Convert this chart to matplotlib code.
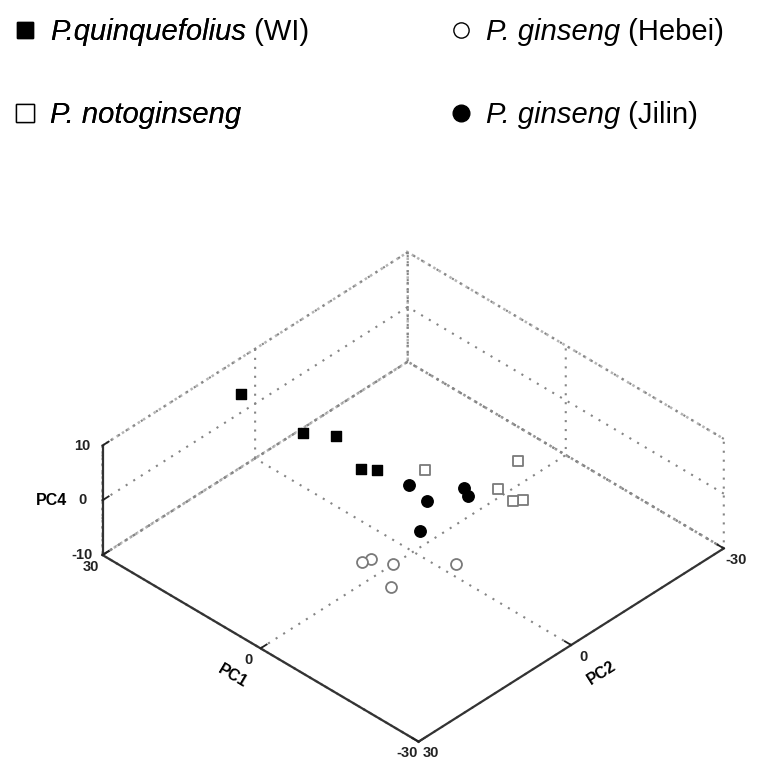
import matplotlib
matplotlib.use("Agg")
import matplotlib.pyplot as plt
from matplotlib.lines import Line2D
from matplotlib.transforms import IdentityTransform

plt.rcParams['font.family'] = ['Liberation Sans', 'DejaVu Sans']
plt.rcParams['axes.unicode_minus'] = False
plt.rcParams['grid.linestyle'] = (0, (1, 3.3))
plt.rcParams['grid.color'] = '#858585'
plt.rcParams['grid.linewidth'] = 1.5

# ---- data (PC1, PC2, PC4 scores) ----
qf_pc1 = [28.6, 18.3, 13.7, 7.7, 6.0]
qf_pc2 = [4.3, 2.8, 1.0, 2.3, 0.8]
qf_pc4 = [5, 3, 4, 2, 2]

pn_pc1 = [1.3, -6.4, -7.9, -11.3, -12.1]
pn_pc2 = [-3.7, -13.9, -8.5, -7.9, -9.1]
pn_pc4 = [2, 2, 1, 1, 1]

hb_pc1 = [-0.9, -1.3, -4.2, -6.7, -10.3]
hb_pc2 = [10.9, 9.6, 8.3, 11.3, 2.3]
hb_pc4 = [-5, -5, -5, -6, -5]

jl_pc1 = [2.3, -1.9, -4.2, -3.7, -5.2]
jl_pc2 = [-1.6, -0.7, 3.1, -6.2, -5.4]
jl_pc4 = [0, 0, -2, 0, 0]

pc12_ticks = [-30, 0, 30]
pc12_ticklabels = ['-30', '0', '30']
pc4_ticks = [-10, 0, 10]
pc4_ticklabels = ['-10', '0', '10']

species = ['P.quinquefolius', 'P. notoginseng', 'P. ginseng', 'P. ginseng']
origins = [' (WI)', '', ' (Hebei)', ' (Jilin)']

W, H = 771, 761
fig = plt.figure(figsize=(W / 100, H / 100), dpi=100)

cx_px, cy_px, size_px = 404.8, 505.3, 618
ax = fig.add_axes([cx_px / W - size_px / 2 / W, 1 - cy_px / H - size_px / 2 / H,
                   size_px / W, size_px / H], projection='3d')
ax.set_proj_type('ortho')
ax.view_init(elev=37.7, azim=134)
ax.set_box_aspect((1, 1, 0.315))
ax.set_xlim(-30, 30)
ax.set_ylim(-30, 30)
ax.set_zlim(-10, 10)

grey = '#7a7a7a'
ax.scatter(qf_pc1, qf_pc2, qf_pc4, marker='s', s=46, c='black', edgecolors='black',
           depthshade=False)
ax.scatter(pn_pc1, pn_pc2, pn_pc4, marker='s', s=46, facecolors='white',
           edgecolors=grey, linewidths=1.3, depthshade=False)
ax.scatter(hb_pc1, hb_pc2, hb_pc4, marker='o', s=62, facecolors='white',
           edgecolors=grey, linewidths=1.3, depthshade=False)
ax.scatter(jl_pc1, jl_pc2, jl_pc4, marker='o', s=68, c='black', edgecolors='black',
           depthshade=False)

tl_kw = dict(fontweight='bold', ha='center', va='center')
ax.set_xticks(pc12_ticks, pc12_ticklabels, **tl_kw)
ax.set_yticks(pc12_ticks, pc12_ticklabels, **tl_kw)
ax.set_zticks(pc4_ticks, pc4_ticklabels, **tl_kw)
ax.tick_params(labelsize=10.5, colors='#222222')
ax.tick_params(axis='x', pad=1)
ax.tick_params(axis='y', pad=1)
ax.tick_params(axis='z', pad=-0.5)

for axis in (ax.xaxis, ax.yaxis, ax.zaxis):
    axis.pane.set_facecolor((1, 1, 1, 0))
    axis.pane.set_edgecolor('#6a6a6a')
    axis.pane.set_linestyle((0, (1, 1.5)))
    axis.pane.set_linewidth(1.8)
    axis.line.set_color('#333333')
    axis.line.set_linewidth(1.6)
    axis._axinfo['tick']['inward_factor'] = 0.0
    axis._axinfo['tick']['outward_factor'] = 0.25
    axis._axinfo['tick']['linewidth'] = {True: 1.3, False: 0.5}

ax.zaxis.set_ticks_position('upper')
ax.zaxis.set_label_position('upper')

ax.xaxis.set_rotate_label(True)
ax.yaxis.set_rotate_label(True)
ax.set_xlabel('PC1', fontsize=11.5, fontweight='bold', labelpad=0)
ax.set_ylabel('PC2', fontsize=11.5, fontweight='bold', labelpad=1)
ax.zaxis.set_rotate_label(False)
ax.set_zlabel('PC4', fontsize=11.5, fontweight='bold', rotation=0, labelpad=-2)

# ---- legend (two columns at the top) ----
fs = 21
h_qf = Line2D([], [], marker='s', color='black', markersize=11, linestyle='none')
h_pn = Line2D([], [], marker='s', markerfacecolor='white', markeredgecolor='black',
              markeredgewidth=1.0, markersize=13, linestyle='none')
h_hb = Line2D([], [], marker='o', markerfacecolor='white', markeredgecolor='black',
              markeredgewidth=1.0, markersize=11, linestyle='none')
h_jl = Line2D([], [], marker='o', color='black', markersize=12, linestyle='none')

leg_kw = dict(loc='upper left', frameon=False,
              prop={'size': fs, 'style': 'italic'}, labelspacing=1.9,
              handlelength=0.8, handletextpad=0.45, borderaxespad=0, borderpad=0)
leg1 = fig.legend([h_qf, h_pn], species[:2], bbox_to_anchor=(13.3 / W, 1 - 18 / H),
                  **leg_kw)
fig.add_artist(leg1)
leg2 = fig.legend([h_hb, h_jl], species[2:], bbox_to_anchor=(449.3 / W, 1 - 18 / H),
                  **leg_kw)

# upright suffixes after the italic species names
fig.canvas.draw()
renderer = fig.canvas.get_renderer()
texts = leg1.get_texts() + leg2.get_texts()
for t, suffix in zip(texts, origins):
    if not suffix:
        continue
    bb = t.get_window_extent(renderer)
    x0, y0 = t.get_transform().transform(t.get_position())
    fig.text(bb.x1, y0, suffix, transform=IdentityTransform(), fontsize=fs,
             va=t.get_va(), ha='left')

fig.savefig('out.png', dpi=100)
